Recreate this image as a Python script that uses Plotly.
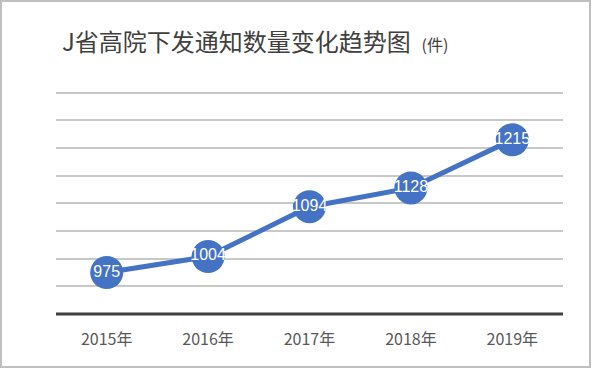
import plotly.graph_objects as go

years = ["2015年", "2016年", "2017年", "2018年", "2019年"]
counts = [975, 1004, 1094, 1128, 1215]
grid_vals = [950, 1000, 1050, 1100, 1150, 1200, 1250, 1300]
title_main = "J省高院下发通知数量变化趋势图"
title_unit = "(件)"

W, H = 594, 370
L, R, T, B = 56, 31, 90, 56
pw, ph = W - L - R, H - T - B

def px_x(x):
    return (x - L) / pw

def px_y(y):
    return (H - B - y) / ph

fig = go.Figure()
fig.add_trace(go.Scatter(
    x=years, y=counts,
    mode="lines+markers+text",
    line=dict(color="#4472C4", width=5),
    marker=dict(color="#4472C4", size=33),
    text=[str(v) for v in counts],
    textposition="middle center",
    textfont=dict(color="white", size=16, family="Liberation Sans, Arial, sans-serif"),
    cliponaxis=False,
    hoverinfo="skip",
))

fig.update_layout(
    width=W, height=H,
    margin=dict(l=L, r=R, t=T, b=B),
    paper_bgcolor="white", plot_bgcolor="white",
    showlegend=False,
    title=dict(
        text=f"{title_main}  <span style='font-size:16px'>{title_unit}</span>",
        x=62 / W, xanchor="left", xref="container",
        y=1 - 43 / H, yanchor="middle", yref="container",
        font=dict(family="Noto Sans CJK SC", size=24, color="#404040"),
    ),
    xaxis=dict(
        type="category",
        range=[-0.5, 4.5],
        showgrid=False,
        showline=False,
        ticks="",
        ticklabelstandoff=14,
        tickfont=dict(family="Noto Sans CJK SC", size=16, color="#595959"),
        fixedrange=True,
    ),
    yaxis=dict(
        range=[900, 1305],
        tickvals=grid_vals,
        showticklabels=False,
        showgrid=True,
        gridcolor="#C8C8C8",
        gridwidth=1.5,
        zeroline=False,
        showline=False,
        fixedrange=True,
    ),
    shapes=[
        dict(type="line", xref="paper", yref="paper", x0=0, x1=1, y0=0, y1=0,
             line=dict(color="#404040", width=3)),
        dict(type="rect", xref="paper", yref="paper",
             x0=px_x(1), x1=px_x(590), y0=px_y(367), y1=px_y(1),
             line=dict(color="#BFBFBF", width=2), layer="below"),
    ],
)

fig.write_html("out.html", config={"displayModeBar": False},
               post_script="document.body.style.margin='0';")
